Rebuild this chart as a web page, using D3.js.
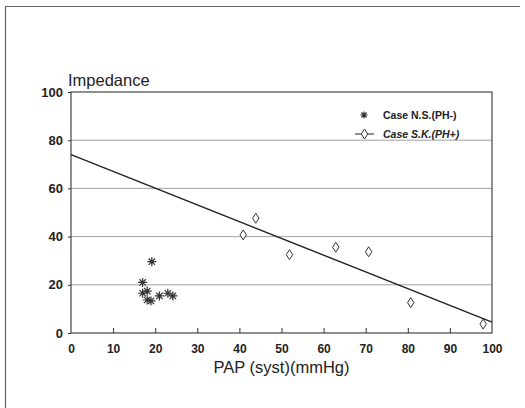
<!DOCTYPE html>
<html><head><meta charset="utf-8">
<script src="https://cdn.jsdelivr.net/npm/d3@7"></script>
<style>body{margin:0;background:#fff}svg{display:block}</style>
</head><body>
<script>
const xTicks = [0,10,20,30,40,50,60,70,80,90,100];
const yTicks = [0,20,40,60,80,100];
const caseNS_x = [19.2,17.0,17.0,18.1,18.1,19.0,21.0,23.0,24.2];
const caseNS_y = [29.6,21.0,16.5,17.4,13.7,13.3,15.4,16.5,15.4];
const caseSK_x = [40.9,43.9,51.9,62.9,70.7,80.7,97.9];
const caseSK_y = [40.7,47.6,32.5,35.6,33.7,12.6,3.7];
const fit_x = [0,100];
const fit_y = [74,4.5];
const legendLabels = ["Case N.S.(PH-)","Case S.K.(PH+)"];

const W=525,H=408;
const m={l:71,r:33,t:92,b:75};
const svg=d3.select("body").append("svg").attr("width",W).attr("height",H);
const font="Liberation Sans, Arial, Helvetica, sans-serif";
const ink="#222";

// outer frame
svg.append("path").attr("d",`M5.5,408 V6.5 H520`).attr("fill","none").attr("stroke","#666").attr("stroke-width",1.2);

const x=d3.scaleLinear().domain([0,100]).range([m.l,W-m.r]);
const y=d3.scaleLinear().domain([0,100]).range([H-m.b,m.t]);

// gridlines
svg.append("g").selectAll("line").data(yTicks.filter(d=>d>0&&d<100)).join("line")
 .attr("x1",x(0)).attr("x2",x(100)).attr("y1",d=>y(d)).attr("y2",d=>y(d))
 .attr("stroke","#999").attr("stroke-width",0.9);

// plot box
svg.append("rect").attr("x",x(0)).attr("y",y(100)).attr("width",x(100)-x(0)).attr("height",y(0)-y(100))
 .attr("fill","none").attr("stroke","#333").attr("stroke-width",1.1);

// x axis
const xa=svg.append("g").attr("transform",`translate(0,${y(0)})`)
 .call(d3.axisBottom(x).tickValues(xTicks).tickSize(-5).tickPadding(11).tickFormat(d3.format("d")));
xa.select(".domain").remove();
xa.selectAll(".tick line").attr("stroke","#333").filter(d=>d===0||d===100).remove();
xa.selectAll("text").attr("font-family",font).attr("font-size",12).attr("font-weight","bold").attr("fill",ink);

// y axis
const ya=svg.append("g").attr("transform",`translate(${x(0)},0)`)
 .call(d3.axisLeft(y).tickValues(yTicks).tickSize(3).tickPadding(5).tickFormat(d3.format("d")));
ya.select(".domain").remove();
ya.selectAll(".tick line").attr("stroke","#333");
ya.selectAll("text").attr("font-family",font).attr("font-size",13).attr("font-weight","bold").attr("fill",ink);

// labels
svg.append("text").attr("x",68).attr("y",86).text("Impedance").attr("font-family",font).attr("font-size",16.5).attr("fill",ink);
svg.append("text").attr("x",(x(0)+x(100))/2).attr("y",373).attr("text-anchor","middle").text("PAP (syst)(mmHg)")
 .attr("font-family",font).attr("font-size",16.5).attr("fill",ink);

// fit line
svg.append("line").attr("x1",x(fit_x[0])).attr("y1",y(fit_y[0])).attr("x2",x(fit_x[1])).attr("y2",y(fit_y[1]))
 .attr("stroke","#222").attr("stroke-width",1.4);

// asterisk path
function star(r){let p="";for(let i=0;i<4;i++){const a=i*Math.PI/4;const dx=r*Math.cos(a),dy=r*Math.sin(a);p+=`M${-dx},${-dy}L${dx},${dy}`;}return p;}
const diamond="M0,-5L3.2,0L0,5L-3.2,0Z";

svg.append("g").selectAll("path").data(caseNS_x.map((d,i)=>[d,caseNS_y[i]])).join("path")
 .attr("transform",d=>`translate(${x(d[0])},${y(d[1])})`).attr("d",star(4.5))
 .attr("stroke","#333").attr("stroke-width",1.2).attr("fill","none");

svg.append("g").selectAll("path").data(caseSK_x.map((d,i)=>[d,caseSK_y[i]])).join("path")
 .attr("transform",d=>`translate(${x(d[0])},${y(d[1])})`).attr("d",diamond)
 .attr("stroke","#333").attr("stroke-width",1).attr("fill","#fff");

// legend
const lg=svg.append("g");
lg.append("path").attr("transform","translate(364,115)").attr("d",star(3.6)).attr("stroke","#333").attr("stroke-width",1.2);
lg.append("text").attr("x",383).attr("y",119).text(legendLabels[0]).attr("font-family",font).attr("font-size",10.5).attr("font-weight","bold").attr("fill",ink);
lg.append("line").attr("x1",355).attr("x2",374).attr("y1",134).attr("y2",134).attr("stroke","#333").attr("stroke-width",1.1);
lg.append("path").attr("transform","translate(364.5,134)").attr("d",diamond).attr("stroke","#333").attr("fill","#fff");
lg.append("text").attr("x",383).attr("y",138).text(legendLabels[1]).attr("font-family",font).attr("font-size",10.5).attr("font-weight","bold").attr("font-style","italic").attr("fill",ink);
</script>
</body></html>
